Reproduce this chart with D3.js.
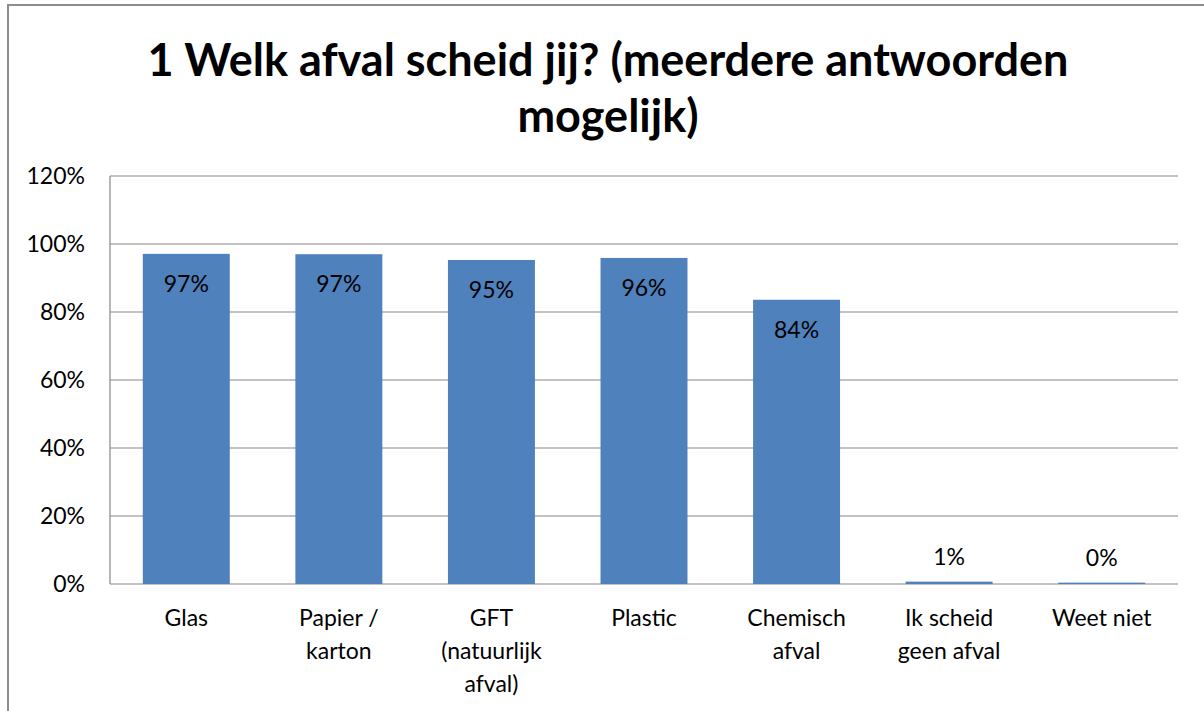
<!DOCTYPE html>
<html>
<head>
<meta charset="utf-8">
<script src="https://cdn.jsdelivr.net/npm/d3@7"></script>
<style>
  body { margin: 0; background: #fff; }
  svg text { font-family: Lato, "Open Sans", sans-serif; fill: #000; }
</style>
</head>
<body>
<div id="chart"></div>
<script>
// data
const categories = [
    ['Glas'],
    ['Papier /', 'karton'],
    ['GFT', '(natuurlijk', 'afval)'],
    ['Plastic'],
    ['Chemisch', 'afval'],
    ['Ik scheid', 'geen afval'],
    ['Weet niet']
];
const values = [97.1, 97.0, 95.3, 95.9, 83.6, 0.7, 0.4];
const valueLabels = ['97%', '97%', '95%', '96%', '84%', '1%', '0%'];
const yTicks = [0, 20, 40, 60, 80, 100, 120];
const titleLines = ['1 Welk afval scheid jij? (meerdere antwoorden', 'mogelijk)'];

const width = 1204, height = 711;
const margin = { top: 176, right: 26, bottom: 127, left: 110 };
const innerW = width - margin.left - margin.right;
const innerH = height - margin.top - margin.bottom;
const fontSize = '23px';

const svg = d3.select('#chart')
    .append('svg')
    .attr('width', width)
    .attr('height', height);

// outer frame
svg.append('rect')
    .attr('x', 8).attr('y', 5)
    .attr('width', width + 10).attr('height', height + 10)
    .attr('fill', 'none')
    .attr('stroke', '#8c8c8c')
    .attr('stroke-width', 2);

// title
svg.append('text')
    .attr('x', 608)
    .attr('y', 76)
    .attr('text-anchor', 'middle')
    .style('font-size', '45px')
    .style('font-weight', 'bold')
    .selectAll('tspan')
    .data(titleLines)
    .join('tspan')
    .attr('x', 608)
    .attr('dy', (d, i) => i === 0 ? 0 : 56)
    .text(d => d);

const g = svg.append('g')
    .attr('transform', `translate(${margin.left},${margin.top})`);

const x = d3.scaleBand()
    .domain(d3.range(categories.length))
    .range([0, innerW])
    .paddingInner(0.43)
    .paddingOuter(0.215);

const y = d3.scaleLinear()
    .domain([0, 120])
    .range([innerH, 0]);

// gridlines
g.append('g')
    .selectAll('line')
    .data(yTicks)
    .join('line')
    .attr('x1', 0).attr('x2', innerW)
    .attr('y1', d => y(d)).attr('y2', d => y(d))
    .attr('stroke', '#868686')
    .attr('stroke-width', 1.2);

// y axis line
g.append('line')
    .attr('x1', 0).attr('x2', 0)
    .attr('y1', 0).attr('y2', innerH)
    .attr('stroke', '#868686')
    .attr('stroke-width', 1.2);

// y labels
const yAxis = g.append('g')
    .call(d3.axisLeft(y).tickValues(yTicks).tickFormat(d => d + '%').tickSize(0).tickPadding(25));
yAxis.select('.domain').remove();
yAxis.selectAll('text')
    .style('font-size', fontSize)
    .style('font-family', 'Lato, "Open Sans", sans-serif');

// bars
g.selectAll('.bar')
    .data(values)
    .join('rect')
    .attr('class', 'bar')
    .attr('x', (d, i) => x(i))
    .attr('y', d => y(d))
    .attr('width', x.bandwidth())
    .attr('height', d => innerH - y(d))
    .attr('fill', '#4f81bd');

// value labels
g.selectAll('.val')
    .data(values)
    .join('text')
    .attr('class', 'val')
    .attr('x', (d, i) => x(i) + x.bandwidth() / 2)
    .attr('y', d => d > 10 ? y(d) + 38 : y(d) - 17)
    .attr('text-anchor', 'middle')
    .style('font-size', fontSize)
    .text((d, i) => valueLabels[i]);

// category labels
const cat = g.selectAll('.cat')
    .data(categories)
    .join('text')
    .attr('class', 'cat')
    .attr('text-anchor', 'middle')
    .attr('transform', (d, i) => `translate(${x(i) + x.bandwidth() / 2},${innerH + 42})`)
    .style('font-size', fontSize);

cat.selectAll('tspan')
    .data(d => d)
    .join('tspan')
    .attr('x', 0)
    .attr('y', (d, i) => i * 33)
    .text(d => d);
</script>
</body>
</html>
